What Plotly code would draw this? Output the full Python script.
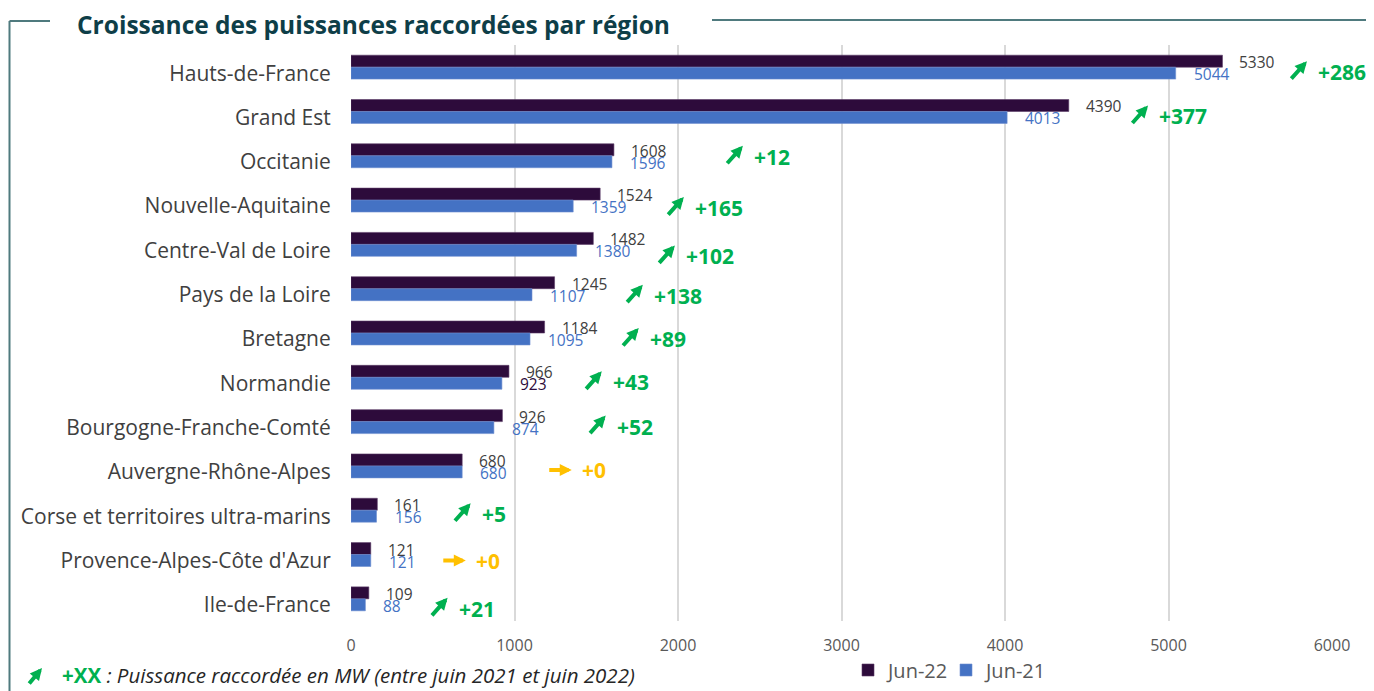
import plotly.graph_objects as go

# ---------------- data ----------------
regions = [
    "Hauts-de-France", "Grand Est", "Occitanie", "Nouvelle-Aquitaine",
    "Centre-Val de Loire", "Pays de la Loire", "Bretagne", "Normandie",
    "Bourgogne-Franche-Comté", "Auvergne-Rhône-Alpes",
    "Corse et territoires ultra-marins", "Provence-Alpes-Côte d'Azur",
    "Ile-de-France",
]
jun22 = [5330, 4390, 1608, 1524, 1482, 1245, 1184, 966, 926, 680, 161, 121, 109]
jun21 = [5044, 4013, 1596, 1359, 1380, 1107, 1095, 923, 874, 680, 156, 121, 88]
x_ticks = [0, 1000, 2000, 3000, 4000, 5000, 6000]

# gap (in MW along the axis) between end of Jun-22 bar and the "+XX" callout
callout_gap = [572, 540, 844, 567, 554, 595, 631, 623, 687, 719, 626, 630, 537]
# vertical pixel offset of the callout relative to the row centre
callout_dy = [-5, -5, -1, -8, -12, -7, -6, -5, -5, -4, -4, -6, -10]

# ---------------- style ----------------
C22 = "#2D0B3B"
C21 = "#4472C4"
GREEN = "#00B050"
YELLOW = "#FFC000"
FRAME = "#4F7A7E"
TITLE_C = "#0E3E48"
FONT = "Open Sans"

OFF = 8                      # default page body margin
SW, SH = 1374, 691           # screen size
W, H = SW - OFF, SH - OFF    # figure size
ML, MR, MT, MB = 343, 42, 37, 70
PW, PH = W - ML - MR, H - MT - MB


def px(xs):
    """screen x pixel -> paper x"""
    return (xs - OFF - ML) / PW


def py(ys):
    """screen y pixel -> paper y"""
    return (H - MB - (ys - OFF)) / PH


fig = go.Figure()
fig.add_trace(go.Bar(
    y=regions, x=jun22, orientation="h", name="Jun-22",
    marker=dict(color=C22, line=dict(color="#5a3a66", width=0.6)),
))
fig.add_trace(go.Bar(
    y=regions, x=jun21, orientation="h", name="Jun-21",
    marker=dict(color=C21, line=dict(color="#6f8fd0", width=0.6)),
))

ann = []
for i, r in enumerate(regions):
    v22, v21 = jun22[i], jun21[i]
    ann.append(dict(x=v22, y=r, xref="x", yref="y", text=str(v22), showarrow=False,
                    xanchor="left", yanchor="middle", xshift=15, yshift=5,
                    font=dict(family=FONT, size=15.5, color="#404040")))
    c21 = C22 if r == "Normandie" else C21
    ann.append(dict(x=v21, y=r, xref="x", yref="y", text=str(v21), showarrow=False,
                    xanchor="left", yanchor="middle", xshift=16, yshift=-7,
                    font=dict(family=FONT, size=15.5, color=c21)))
    growth = v22 - v21
    col = GREEN if growth > 0 else YELLOW
    xt = v22 + callout_gap[i]
    dy = callout_dy[i]
    ann.append(dict(x=xt, y=r, xref="x", yref="y", text=f"<b>+{growth}</b>",
                    showarrow=False, xanchor="left", yanchor="middle", yshift=dy,
                    font=dict(family=FONT, size=21, color=col)))
    if growth > 0:
        ann.append(dict(x=xt, y=r, xref="x", yref="y", text="", showarrow=True,
                        xshift=-9, yshift=dy + 11, ax=-17, ay=19, axref="pixel", ayref="pixel",
                        arrowhead=2, arrowsize=0.6, arrowwidth=4, arrowcolor=col,
                        standoff=0, startstandoff=0))
    else:
        ann.append(dict(x=xt, y=r, xref="x", yref="y", text="", showarrow=True,
                        xshift=-8, yshift=dy, ax=-24, ay=0, axref="pixel", ayref="pixel",
                        arrowhead=2, arrowsize=0.6, arrowwidth=4, arrowcolor=col,
                        standoff=0, startstandoff=0))

# title
ann.append(dict(x=px(75), y=py(24.5), xref="paper", yref="paper",
                text="<b>Croissance des puissances raccordées par région</b>",
                showarrow=False, xanchor="left", yanchor="middle",
                font=dict(family=FONT, size=24.5, color=TITLE_C)))
# footer note
ann.append(dict(x=px(42), y=py(668), xref="paper", yref="paper", text="", showarrow=True,
                ax=-14, ay=17, axref="pixel", ayref="pixel", arrowhead=2, arrowsize=0.6,
                arrowwidth=4, arrowcolor=GREEN, standoff=0))
ann.append(dict(x=px(60), y=py(675), xref="paper", yref="paper",
                text=f"<b><span style='color:{GREEN}'>+XX</span></b>"
                     "<i> : Puissance raccordée en MW (entre juin 2021 et juin 2022)</i>",
                showarrow=False, xanchor="left", yanchor="middle",
                font=dict(family=FONT, size=20.5, color="#262626")))

shapes = [
    dict(type="line", xref="paper", yref="paper", x0=px(9.5), x1=px(50), y0=py(21), y1=py(21),
         line=dict(color=FRAME, width=2)),
    dict(type="line", xref="paper", yref="paper", x0=px(9.5), x1=px(9.5), y0=py(21), y1=py(SH + 2),
         line=dict(color=FRAME, width=2)),
    dict(type="line", xref="paper", yref="paper", x0=px(712), x1=px(SW + 2), y0=py(20), y1=py(20),
         line=dict(color=FRAME, width=2)),
]

fig.update_layout(
    width=W, height=H,
    margin=dict(l=ML, r=MR, t=MT, b=MB, autoexpand=False),
    paper_bgcolor="white", plot_bgcolor="white",
    barmode="group", bargap=0.46, bargroupgap=0,
    font=dict(family=FONT, color="#404040"),
    annotations=ann, shapes=shapes,
    legend=dict(orientation="h", x=px(848), y=py(670), xanchor="left", yanchor="middle",
                font=dict(family=FONT, size=20, color="#595959"), traceorder="normal",
                itemwidth=30, entrywidth=53, entrywidthmode="pixels",
                bgcolor="rgba(0,0,0,0)"),
    showlegend=True,
)
fig.update_xaxes(range=[0, 6000], tickvals=x_ticks, showgrid=True, gridcolor="#D9D9D9",
                 gridwidth=2, zeroline=False, showline=False,
                 ticks="outside", ticklen=10, tickcolor="rgba(0,0,0,0)",
                 tickfont=dict(family=FONT, size=16, color="#595959"))
fig.update_yaxes(autorange="reversed", showgrid=False, showline=False, zeroline=False,
                 ticks="outside", ticklen=15, tickcolor="rgba(0,0,0,0)",
                 ticklabelshift=-6,
                 tickfont=dict(family=FONT, size=21, color="#404040"))

fig.write_html("out.html")
